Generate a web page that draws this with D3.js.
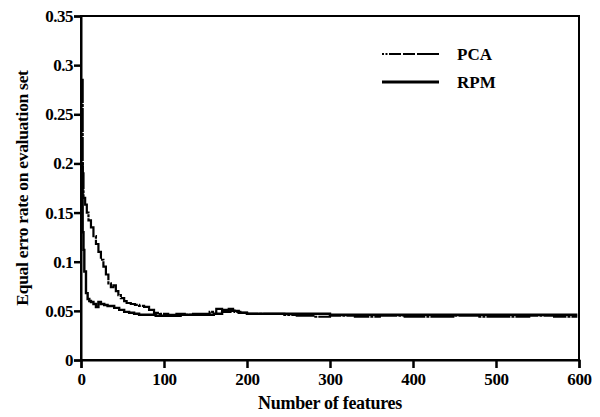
<!DOCTYPE html>
<html>
<head>
<meta charset="utf-8">
<script src="https://cdn.jsdelivr.net/npm/d3@7"></script>
<style>
  body { margin: 0; background: #fff; }
  text { font-family: "Liberation Serif", "Times New Roman", serif; font-weight: bold; fill: #000; }
</style>
</head>
<body>
<div id="chart"></div>
<script>
const width = 600;
const height = 417;

// data
const pcaFeatures = [1, 2, 3, 5, 7, 9, 12, 15, 18, 21, 24, 27, 30, 33, 36, 39, 42, 45, 48, 52, 55, 60, 65, 70, 76, 82, 88, 95, 105, 115, 125, 135, 145, 155, 163, 170, 178, 185, 192, 200, 215, 230, 245, 260, 280, 300, 330, 360, 390, 420, 450, 480, 510, 540, 570, 598];
const pcaError = [0.285, 0.19, 0.165, 0.158, 0.15, 0.142, 0.135, 0.126, 0.118, 0.11, 0.102, 0.095, 0.087, 0.078, 0.074, 0.076, 0.07, 0.066, 0.063, 0.06, 0.058, 0.057, 0.056, 0.055, 0.054, 0.051, 0.048, 0.047, 0.046, 0.047, 0.046, 0.047, 0.047, 0.049, 0.052, 0.051, 0.052, 0.049, 0.048, 0.047, 0.047, 0.047, 0.046, 0.045, 0.044, 0.045, 0.044, 0.045, 0.044, 0.044, 0.045, 0.044, 0.044, 0.045, 0.044, 0.044];

const rpmFeatures = [1, 2, 3, 4, 6, 8, 10, 12, 15, 18, 21, 24, 28, 32, 36, 40, 46, 52, 58, 64, 70, 80, 90, 100, 110, 120, 130, 140, 150, 160, 170, 180, 190, 200, 250, 300, 350, 400, 450, 500, 550, 598];
const rpmError = [0.2, 0.13, 0.112, 0.09, 0.068, 0.062, 0.06, 0.059, 0.057, 0.054, 0.059, 0.057, 0.056, 0.055, 0.055, 0.053, 0.051, 0.049, 0.048, 0.047, 0.046, 0.046, 0.045, 0.045, 0.045, 0.046, 0.046, 0.046, 0.046, 0.047, 0.049, 0.05, 0.048, 0.047, 0.047, 0.046, 0.046, 0.046, 0.046, 0.046, 0.046, 0.046];

const xTicks = [0, 100, 200, 300, 400, 500, 600];
const yTicks = [0, 0.05, 0.1, 0.15, 0.2, 0.25, 0.3, 0.35];
const yTickLabels = ["0", "0.05", "0.1", "0.15", "0.2", "0.25", "0.3", "0.35"];

const margin = { top: 16, right: 21, bottom: 57, left: 81 };
const innerW = width - margin.left - margin.right;
const innerH = height - margin.top - margin.bottom;

const svg = d3.select("#chart")
  .append("svg")
  .attr("width", width)
  .attr("height", height);

const g = svg.append("g")
  .attr("transform", `translate(${margin.left},${margin.top})`);

const x = d3.scaleLinear().domain([0, 600]).range([0, innerW]);
const y = d3.scaleLinear().domain([0, 0.35]).range([innerH, 0]);

// frame
g.append("rect")
  .attr("width", innerW)
  .attr("height", innerH)
  .attr("fill", "none")
  .attr("stroke", "#000")
  .attr("stroke-width", 2);

// x axis
const xAxis = g.append("g")
  .attr("transform", `translate(0,${innerH})`)
  .call(d3.axisBottom(x).tickValues(xTicks).tickSize(8).tickPadding(5).tickFormat(d3.format("d")));
xAxis.select(".domain").attr("stroke-width", 2);
xAxis.selectAll(".tick line").attr("stroke-width", 2.5);
xAxis.selectAll("text").style("font-size", "17px").style("letter-spacing", "-0.3px");

// y axis
const yAxis = g.append("g")
  .call(d3.axisLeft(y).tickValues(yTicks).tickSize(7).tickPadding(1).tickFormat((d, i) => yTickLabels[i]));
yAxis.select(".domain").attr("stroke-width", 2);
yAxis.selectAll(".tick line").attr("stroke-width", 2.5);
yAxis.selectAll("text").style("font-size", "17px").style("letter-spacing", "-0.5px");

// lines
const line = d3.line()
  .x(d => x(d[0]))
  .y(d => y(d[1]))
  .curve(d3.curveStepAfter);

const pcaData = pcaFeatures.map((f, i) => [f, pcaError[i]]);
const rpmData = rpmFeatures.map((f, i) => [f, rpmError[i]]);

g.append("path")
  .datum(rpmData)
  .attr("fill", "none")
  .attr("stroke", "#000")
  .attr("stroke-width", 2.4)
  .attr("d", line);

g.append("path")
  .datum(pcaData)
  .attr("fill", "none")
  .attr("stroke", "#000")
  .attr("stroke-width", 2.2)
  .attr("stroke-dasharray", "24,1,3,1")
  .attr("d", line);

// legend
const legend = svg.append("g").attr("transform", "translate(382,54)");
legend.append("line")
  .attr("x1", 0).attr("x2", 57).attr("y1", 0).attr("y2", 0)
  .attr("stroke", "#000").attr("stroke-width", 2)
  .attr("stroke-dasharray", "2,1.5,2,1.5,12,2,12,2,30");
legend.append("text").attr("x", 75).attr("y", 6).style("font-size", "17px").text("PCA");
legend.append("line")
  .attr("x1", 0).attr("x2", 57).attr("y1", 28).attr("y2", 28)
  .attr("stroke", "#000").attr("stroke-width", 3);
legend.append("text").attr("x", 75).attr("y", 34).style("font-size", "17px").text("RPM");

// axis titles
svg.append("text")
  .attr("x", margin.left + innerW / 2)
  .attr("y", 409)
  .attr("text-anchor", "middle")
  .style("font-size", "18px")
  .style("letter-spacing", "-0.3px")
  .text("Number of features");

svg.append("text")
  .attr("transform", "translate(28,188) rotate(-90)")
  .attr("text-anchor", "middle")
  .style("font-size", "17.5px")
  .style("letter-spacing", "-0.3px")
  .text("Equal erro rate on evaluation set");
</script>
</body>
</html>
